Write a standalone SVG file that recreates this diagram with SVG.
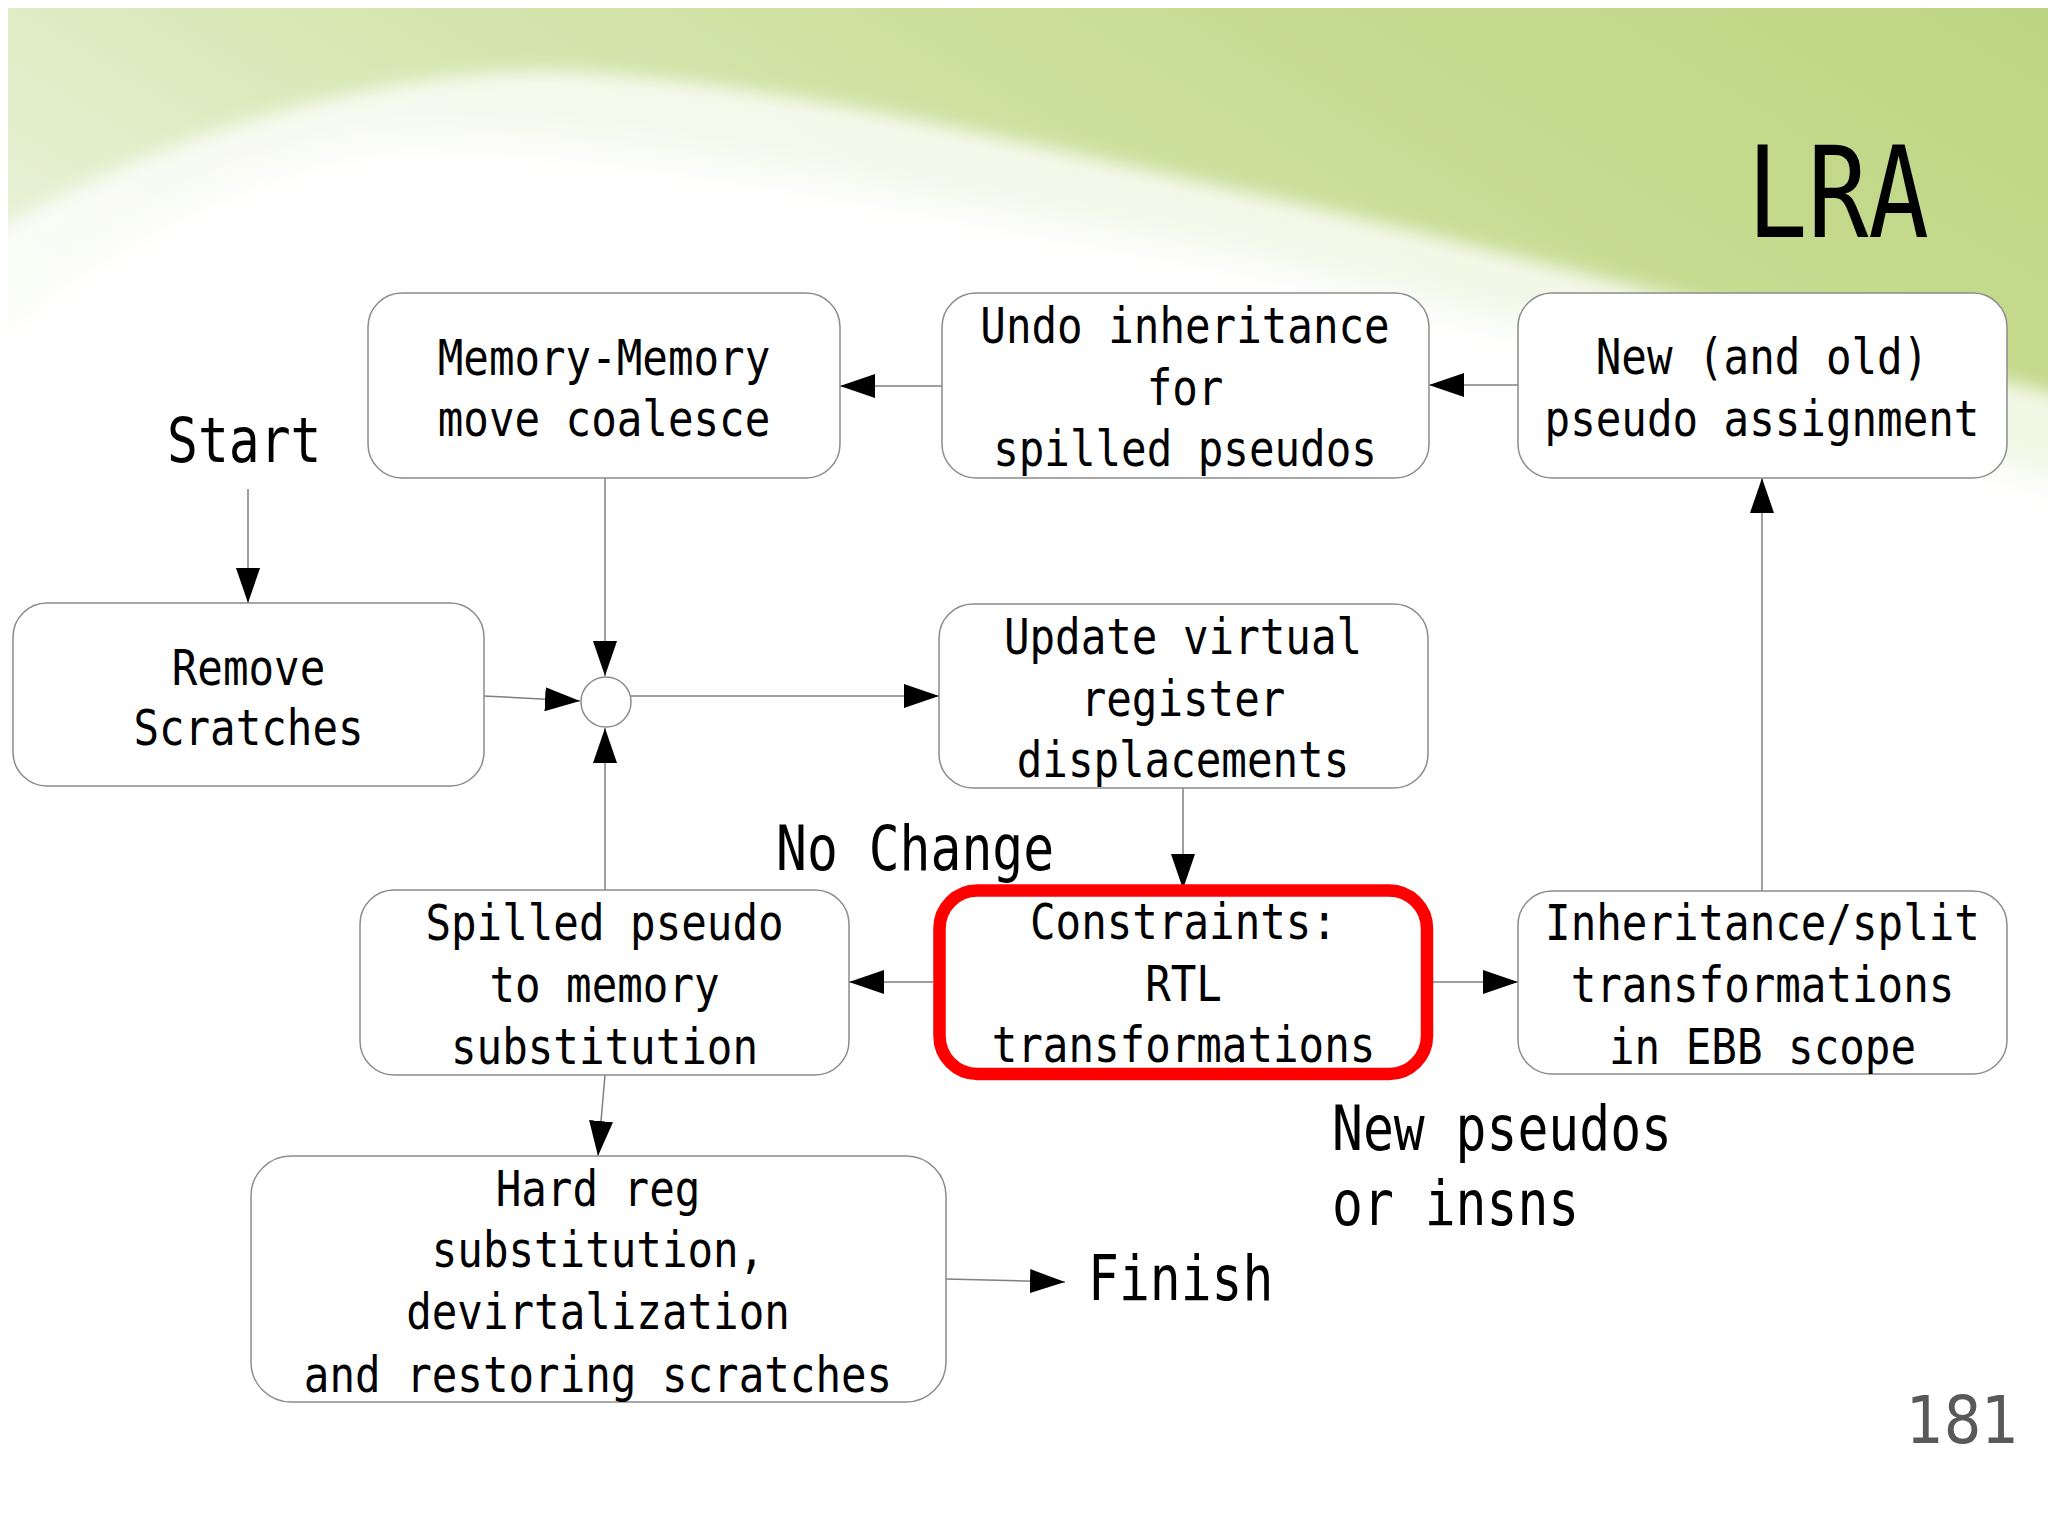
<svg xmlns="http://www.w3.org/2000/svg" width="2048" height="1536" viewBox="0 0 2048 1536">
<defs>
<linearGradient id="bgG" x1="0" y1="0.45" x2="1" y2="0">
<stop offset="0" stop-color="#eaf2da"/>
<stop offset="0.3" stop-color="#d6e7b2"/>
<stop offset="0.7" stop-color="#c5db8f"/>
<stop offset="1" stop-color="#bdd684"/>
</linearGradient>
<filter id="soft" x="-0.1" y="-0.5" width="1.2" height="2">
<feGaussianBlur stdDeviation="16"/>
</filter>
<filter id="soft2" x="-0.1" y="-0.5" width="1.2" height="2">
<feGaussianBlur stdDeviation="9"/>
</filter>
<marker id="ah" markerUnits="userSpaceOnUse" markerWidth="36" markerHeight="24" refX="35" refY="12" orient="auto">
<path d="M0,0 L35,12 L0,24 Z" fill="#000"/>
</marker>
<style>
.box{fill:#fff;stroke:#8c8c8c;stroke-width:1.5}
.t{font-family:"DejaVu Sans Mono","Liberation Mono",monospace;font-size:50px;fill:#000;text-anchor:middle}
.big{font-family:"DejaVu Sans Mono","Liberation Mono",monospace;font-size:63px;fill:#000}
.ln{fill:none;stroke:#7f7f7f;stroke-width:1.5;marker-end:url(#ah)}
</style>
</defs>
<rect width="2048" height="1536" fill="#fff"/>
<g id="background">
<rect x="8" y="8" width="2040" height="560" fill="url(#bgG)"/>
<path d="M-60,270 C100,150 380,62 575,72 C800,85 1050,150 1305,205 C1550,262 1800,330 2120,410 L2120,1600 L-60,1600 Z" fill="#fff" opacity="0.78" filter="url(#soft2)"/>
<path d="M-60,390 C60,250 280,135 431,137 C640,140 920,200 1175,245 C1450,300 1750,390 2120,500 L2120,1600 L-60,1600 Z" fill="#fff" filter="url(#soft)"/>
<rect x="0" y="0" width="2048" height="8" fill="#fff"/>
<rect x="0" y="0" width="8" height="600" fill="#fff"/>
</g>
<g id="connectors">
<line class="ln" x1="248" y1="489" x2="248" y2="603"/>
<line class="ln" x1="484" y1="696" x2="580" y2="701"/>
<line class="ln" x1="605" y1="478" x2="605" y2="676"/>
<line class="ln" x1="605" y1="890" x2="605" y2="728"/>
<line class="ln" x1="631" y1="696" x2="939" y2="696"/>
<line class="ln" x1="942" y1="386" x2="840" y2="386"/>
<line class="ln" x1="1518" y1="385" x2="1429" y2="385"/>
<line class="ln" x1="1183" y1="788" x2="1183" y2="889"/>
<line class="ln" x1="933" y1="982" x2="849" y2="982"/>
<line class="ln" x1="1433" y1="982" x2="1518" y2="982"/>
<line class="ln" x1="1762" y1="891" x2="1762" y2="478"/>
<line class="ln" x1="605" y1="1075" x2="598" y2="1156"/>
<line class="ln" x1="946" y1="1279" x2="1065" y2="1282"/>
</g>
<g id="title">
<text x="1747" y="237" font-family="DejaVu Sans Mono, monospace" font-size="126" textLength="182" lengthAdjust="spacingAndGlyphs" fill="#000">LRA</text>
</g>
<g id="start">
<text class="big" transform="translate(167,0) scale(0.815,1)" x="0" y="462">Start</text>
</g>
<g id="memory-memory">
<rect class="box" x="368" y="293" width="472" height="185" rx="34"/>
<text class="t" transform="translate(604,0) scale(0.85,1)"><tspan x="0" y="375">Memory-Memory</tspan><tspan x="0" y="436">move coalesce</tspan></text>
</g>
<g id="undo-inheritance">
<rect class="box" x="942" y="293" width="487" height="185" rx="34"/>
<text class="t" transform="translate(1185,0) scale(0.85,1)"><tspan x="0" y="343">Undo inheritance</tspan><tspan x="0" y="405">for</tspan><tspan x="0" y="466">spilled pseudos</tspan></text>
</g>
<g id="pseudo-assignment">
<rect class="box" x="1518" y="293" width="489" height="185" rx="34"/>
<text class="t" transform="translate(1762,0) scale(0.85,1)"><tspan x="0" y="374">New (and old)</tspan><tspan x="0" y="436">pseudo assignment</tspan></text>
</g>
<g id="remove-scratches">
<rect class="box" x="13" y="603" width="471" height="183" rx="34"/>
<text class="t" transform="translate(248.5,0) scale(0.85,1)"><tspan x="0" y="685">Remove</tspan><tspan x="0" y="745">Scratches</tspan></text>
</g>
<g id="join">
<circle cx="606" cy="702" r="25" fill="#fff" stroke="#8c8c8c" stroke-width="1.5"/>
</g>
<g id="update-virtual">
<rect class="box" x="939" y="604" width="489" height="184" rx="34"/>
<text class="t" transform="translate(1183,0) scale(0.85,1)"><tspan x="0" y="654">Update virtual</tspan><tspan x="0" y="716">register</tspan><tspan x="0" y="777">displacements</tspan></text>
</g>
<g id="constraints">
<rect x="939.5" y="890.5" width="487.5" height="183.5" rx="38" fill="#fff" stroke="#f00" stroke-width="12.5"/>
<text class="t" transform="translate(1183.5,0) scale(0.85,1)"><tspan x="0" y="939">Constraints:</tspan><tspan x="0" y="1001">RTL</tspan><tspan x="0" y="1062">transformations</tspan></text>
</g>
<g id="spilled-pseudo">
<rect class="box" x="360" y="890" width="489" height="185" rx="34"/>
<text class="t" transform="translate(604.5,0) scale(0.85,1)"><tspan x="0" y="940">Spilled pseudo</tspan><tspan x="0" y="1002">to memory</tspan><tspan x="0" y="1064">substitution</tspan></text>
</g>
<g id="inheritance-split">
<rect class="box" x="1518" y="891" width="489" height="183" rx="34"/>
<text class="t" transform="translate(1762.5,0) scale(0.85,1)"><tspan x="0" y="940">Inheritance/split</tspan><tspan x="0" y="1002">transformations</tspan><tspan x="0" y="1064">in EBB scope</tspan></text>
</g>
<g id="hard-reg">
<rect class="box" x="251" y="1156" width="695" height="246" rx="40"/>
<text class="t" transform="translate(598,0) scale(0.85,1)"><tspan x="0" y="1206">Hard reg</tspan><tspan x="0" y="1267">substitution,</tspan><tspan x="0" y="1329">devirtalization</tspan><tspan x="0" y="1392">and restoring scratches</tspan></text>
</g>
<g id="labels">
<text class="big" transform="translate(776,0) scale(0.815,1)" x="0" y="870">No Change</text>
<text class="big" transform="translate(1088,0) scale(0.815,1)" x="0" y="1300">Finish</text>
<text class="big" transform="translate(1332,0) scale(0.815,1)"><tspan x="0" y="1150">New pseudos</tspan><tspan x="0" y="1225">or insns</tspan></text>
</g>
<g id="page-number">
<text x="1906" y="1443" font-family="DejaVu Sans, sans-serif" font-size="66" textLength="113" lengthAdjust="spacingAndGlyphs" fill="#595959">181</text>
</g>
</svg>
